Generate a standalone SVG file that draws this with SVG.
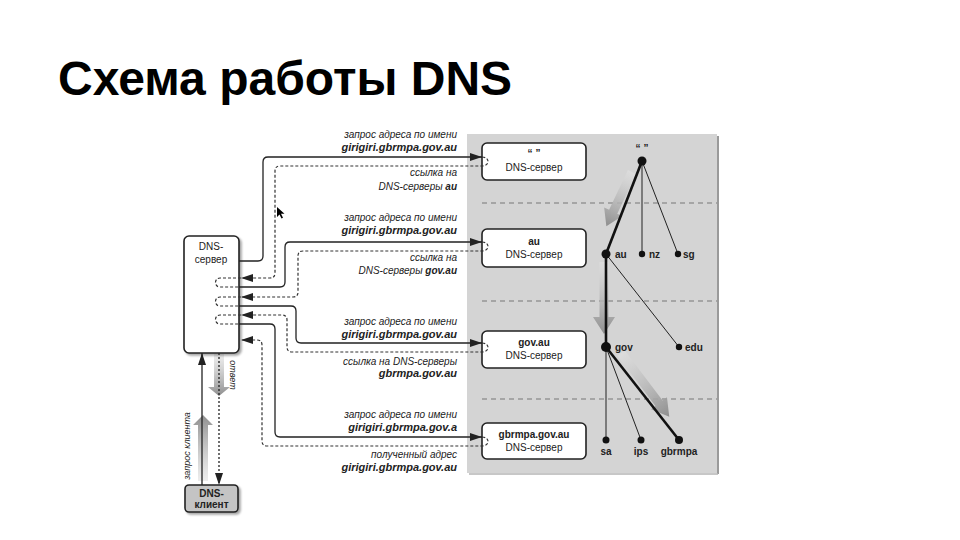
<svg xmlns="http://www.w3.org/2000/svg" width="960" height="540" viewBox="0 0 960 540">
<style>
text{font-family:"Liberation Sans",Arial,sans-serif;fill:#222}
.title{font-size:48px;font-weight:bold;fill:#000}
.lbl{font-size:10px;font-style:italic;text-anchor:end}
.lblb{font-size:11px;font-style:italic;font-weight:bold;text-anchor:end}
.box{fill:#fff;stroke:#222;stroke-width:1.6}
.bt{font-size:10px;text-anchor:middle}
.btb{font-size:10px;text-anchor:middle;font-weight:bold}
.tl{font-size:10px;font-weight:bold}
.q{fill:none;stroke:#222;stroke-width:1.3}
.r{fill:none;stroke:#333;stroke-width:1.2;stroke-dasharray:3 2}
.lvl{stroke:#777;stroke-width:1;stroke-dasharray:5 4}
.thin{stroke:#222;stroke-width:1}
.thick{stroke:#111;stroke-width:2.6}
.dot{fill:#111}
.ga{fill:url(#gg)}
</style>
<defs>
<marker id="ah" viewBox="0 0 12 8" refX="12" refY="4" markerWidth="12" markerHeight="8" markerUnits="userSpaceOnUse" orient="auto">
<path d="M0,0 L12,4 L0,8 Z" fill="#222"/>
</marker>
<linearGradient id="gg" x1="0" y1="0" x2="1" y2="0">
<stop offset="0" stop-color="#e2e2e2" stop-opacity="0.6"/>
<stop offset="1" stop-color="#8e8e8e"/>
</linearGradient>
<filter id="sh" x="-20%" y="-20%" width="150%" height="150%">
<feDropShadow dx="2" dy="2" stdDeviation="1.2" flood-color="#000" flood-opacity="0.35"/>
</filter>
</defs>
<rect width="960" height="540" fill="#fff"/>
<text class="title" x="58" y="95">Схема работы DNS</text>

<!-- panel -->
<rect x="467" y="134" width="250" height="339" fill="#d4d4d4"/>
<line x1="718" y1="136" x2="718" y2="474" stroke="#9a9a9a" stroke-width="2"/>
<line x1="469" y1="474" x2="718" y2="474" stroke="#b5b5b5" stroke-width="1.5"/>
<g id="levels">
<line class="lvl" x1="482" y1="203" x2="717" y2="203"/>
<line class="lvl" x1="482" y1="301" x2="717" y2="301"/>
<line class="lvl" x1="482" y1="399" x2="717" y2="399"/>
</g>

<!-- gray arrows -->
<g id="grayArrows">
<polygon class="ga" points="0,-4.5 44,-4.5 44,-10 60,0 44,10 44,4.5 0,4.5" transform="translate(632,172) rotate(115.3)"/>
<polygon class="ga" points="0,-4.5 55,-4.5 55,-11 72,0 55,11 55,4.5 0,4.5" transform="translate(604,262) rotate(90)"/>
<polygon class="ga" points="0,-4.5 63,-4.5 63,-10 80,0 63,10 63,4.5 0,4.5" transform="translate(621,353) rotate(52.9)"/>
<polygon class="ga" points="0,-5 33,-5 33,-11 42,0 33,11 33,5 0,5" transform="translate(219,354) rotate(90)"/>
<polygon class="ga" points="0,-5 56,-5 56,-10 66,0 56,10 56,5 0,5" transform="translate(203,481) rotate(-90)"/>
</g>

<!-- tree -->
<g id="tree">
<line class="thin" x1="642" y1="161" x2="642" y2="254"/>
<line class="thin" x1="642" y1="161" x2="678" y2="254"/>
<line class="thin" x1="606" y1="254" x2="679" y2="347"/>
<line class="thin" x1="606" y1="347" x2="606" y2="440"/>
<line class="thin" x1="606" y1="347" x2="641" y2="440"/>
<line class="thick" x1="642" y1="161" x2="606" y2="254"/>
<line class="thick" x1="606" y1="254" x2="606" y2="347"/>
<line class="thick" x1="606" y1="347" x2="679" y2="440"/>
<circle class="dot" cx="642" cy="161" r="4.5"/>
<circle class="dot" cx="606" cy="254" r="4.5"/>
<circle class="dot" cx="642" cy="254" r="3.2"/>
<circle class="dot" cx="678" cy="254" r="3.2"/>
<circle class="dot" cx="606" cy="347" r="5"/>
<circle class="dot" cx="679" cy="347" r="3.2"/>
<circle class="dot" cx="606" cy="440" r="3.5"/>
<circle class="dot" cx="641" cy="440" r="3.5"/>
<circle class="dot" cx="679" cy="440" r="4"/>
<text class="tl" x="642" y="152" text-anchor="middle">“ ”</text>
<text class="tl" x="615" y="258">au</text>
<text class="tl" x="649" y="258">nz</text>
<text class="tl" x="683" y="258">sg</text>
<text class="tl" x="615" y="351">gov</text>
<text class="tl" x="685" y="351">edu</text>
<text class="tl" x="606" y="455" text-anchor="middle">sa</text>
<text class="tl" x="641" y="455" text-anchor="middle">ips</text>
<text class="tl" x="679" y="455" text-anchor="middle">gbrmpa</text>
</g>

<!-- right servers -->
<g id="srvRoot">
<rect class="box" x="482" y="143" width="104" height="37" rx="5"/>
<text class="btb" x="534" y="157">“ ”</text>
<text class="bt" x="534" y="171">DNS-сервер</text>
</g>
<g id="srvAu">
<rect class="box" x="482" y="229" width="104" height="38" rx="5"/>
<text class="btb" x="534" y="245">au</text>
<text class="bt" x="534" y="258">DNS-сервер</text>
</g>
<g id="srvGov">
<rect class="box" x="482" y="331" width="104" height="37" rx="5"/>
<text class="btb" x="534" y="346">gov.au</text>
<text class="bt" x="534" y="359">DNS-сервер</text>
</g>
<g id="srvGbrmpa">
<rect class="box" x="482" y="423" width="104" height="36" rx="5"/>
<text class="btb" x="534" y="438">gbrmpa.gov.au</text>
<text class="bt" x="534" y="451">DNS-сервер</text>
</g>

<!-- left server and client -->
<g id="dnsServer">
<rect class="box" x="184" y="236" width="55" height="117" rx="5" filter="url(#sh)"/>
<text class="bt" x="211" y="250">DNS-</text>
<text class="bt" x="211" y="263">сервер</text>
</g>
<g id="dnsClient">
<rect x="185" y="485" width="53" height="27" rx="4" fill="#c4c4c4" stroke="#222" stroke-width="1.6" filter="url(#sh)"/>
<text class="btb" x="211.5" y="497">DNS-</text>
<text class="btb" x="211.5" y="508">клиент</text>
</g>

<!-- connectors -->
<g id="connectors">
<path class="q" d="M239,261 H258 Q263,261 263,256 V162 Q263,157 268,157 H482" marker-end="url(#ah)"/>
<path class="r" d="M482,157 C490,157 490,166 482,166 H280 Q275,166 275,171 V273 Q275,278 270,278 H241" marker-end="url(#ah)"/>
<path class="r" d="M241,278 H220 C214,278 214,287 220,287 H239"/>
<path class="q" d="M239,287 H280 Q285,287 285,282 V247 Q285,242 290,242 H482" marker-end="url(#ah)"/>
<path class="r" d="M482,242 C490,242 490,251 482,251 H303 Q298,251 298,256 V292 Q298,297 293,297 H241" marker-end="url(#ah)"/>
<path class="r" d="M241,297 H220 C214,297 214,306 220,306 H239"/>
<path class="q" d="M239,306 H291 Q296,306 296,311 V338 Q296,343 301,343 H482" marker-end="url(#ah)"/>
<path class="r" d="M482,343 C490,343 490,352 482,352 H292 Q287,352 287,347 V320 Q287,315 282,315 H241" marker-end="url(#ah)"/>
<path class="r" d="M241,315 H220 C214,315 214,324 220,324 H239"/>
<path class="q" d="M239,324 H270 Q275,324 275,329 V432 Q275,437 280,437 H482" marker-end="url(#ah)"/>
<path class="r" d="M482,437 C490,437 490,446 482,446 H267 Q262,446 262,441 V345 Q262,340 257,340 H241" marker-end="url(#ah)"/>
<path class="q" d="M202,485 V353" marker-end="url(#ah)"/>
<path fill="none" stroke="#222" stroke-width="1.3" stroke-dasharray="2 2" d="M219,353 V485" marker-end="url(#ah)"/>
</g>

<!-- labels -->
<g id="labels">
<text class="lbl" x="457" y="138">запрос адреса по имени</text>
<text class="lblb" x="457" y="151">girigiri.gbrmpa.gov.au</text>
<text class="lbl" x="457" y="176">ссылка на</text>
<text class="lbl" x="457" y="190">DNS-серверы <tspan font-weight="bold">au</tspan></text>
<text class="lbl" x="457" y="221">запрос адреса по имени</text>
<text class="lblb" x="457" y="234">girigiri.gbrmpa.gov.au</text>
<text class="lbl" x="457" y="261">ссылка на</text>
<text class="lbl" x="457" y="274">DNS-серверы <tspan font-weight="bold">gov.au</tspan></text>
<text class="lbl" x="457" y="325">запрос адреса по имени</text>
<text class="lblb" x="457" y="338">girigiri.gbrmpa.gov.au</text>
<text class="lbl" x="457" y="365">ссылка на DNS-серверы</text>
<text class="lblb" x="457" y="377">gbrmpa.gov.au</text>
<text class="lbl" x="457" y="418">запрос адреса по имени</text>
<text class="lblb" x="457" y="431">girigiri.gbrmpa.gov.a</text>
<text class="lbl" x="457" y="458">полученный адрес</text>
<text class="lblb" x="457" y="471">girigiri.gbrmpa.gov.au</text>
<text font-size="9" font-style="italic" text-anchor="middle" transform="translate(230,375) rotate(90)">ответ</text>
<text font-size="9" font-style="italic" text-anchor="middle" transform="translate(190,446) rotate(-90)">запрос клиента</text>
</g>

<!-- cursor -->
<path d="M277,207 V217 L279.5,214.5 L281.5,218.5 L283,217.8 L281,213.8 L284.5,213.8 Z" fill="#000"/>
</svg>
